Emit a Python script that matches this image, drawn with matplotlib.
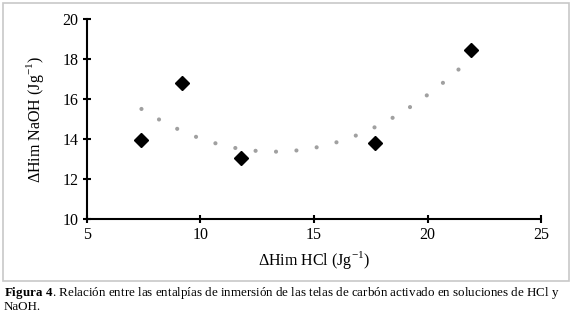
import matplotlib
matplotlib.use("Agg")
import matplotlib.pyplot as plt
import numpy as np
from matplotlib.patches import Rectangle

# data
him_hcl = [7.4, 9.2, 11.8, 17.7, 21.9]
him_naoh = [13.95, 16.8, 13.05, 13.8, 18.45]

xticks = [5, 10, 15, 20, 25]
yticks = [10, 12, 14, 16, 18, 20]

plt.rcParams['font.family'] = ['Liberation Serif', 'DejaVu Serif']
plt.rcParams['mathtext.fontset'] = 'custom'
plt.rcParams['mathtext.rm'] = 'Liberation Serif'
plt.rcParams['mathtext.bf'] = 'Liberation Serif:bold'

fig = plt.figure(figsize=(5.72, 3.13), dpi=100)
ax = fig.add_axes([0.152, 0.300, 0.794, 0.639])

# polynomial (order 2) trendline like the spreadsheet one
coef = np.polyfit(him_hcl, him_naoh, 2)
xs = np.linspace(min(him_hcl), max(him_hcl), 200)
ax.plot(xs, np.polyval(coef, xs), color='#a0a0a0', lw=3.0,
        ls=(0, (0.01, 4.9)), dash_capstyle='round', zorder=2)

ax.plot(him_hcl, him_naoh, 'D', color='black', markersize=7, zorder=3)

ax.set_xlim(5, 25)
ax.set_ylim(10, 20)
ax.set_xticks(xticks)
ax.set_yticks(yticks)
ax.spines['top'].set_visible(False)
ax.spines['right'].set_visible(False)
for s in ['left', 'bottom']:
    ax.spines[s].set_linewidth(1.5)
ax.tick_params(direction='inout', length=6, width=1.5, labelsize=11.5, pad=3)

ax.set_xlabel(r'ΔHim HCl (Jg$^{\mathregular{-1}}$)', fontsize=11.5, labelpad=4)
ax.set_ylabel(r'ΔHim NaOH (Jg$^{\mathregular{-1}}$)', fontsize=11.5, labelpad=12)

# thin grey frame around the chart
fig.patches.append(Rectangle((3 / 572, 1 - 281 / 313), 566 / 572, 278 / 313,
                             transform=fig.transFigure, fill=False,
                             edgecolor='#c8c8c8', lw=1.2))

fig.text(4 / 572, 1 - 293 / 313,
         r'$\mathbf{Figura\ 4}$. Relación entre las entalpías de inmersión de las telas de carbón activado en soluciones de HCl y',
         fontsize=9.4, va='center', ha='left')
fig.text(4 / 572, 1 - 307 / 313, 'NaOH.', fontsize=9.4, va='center', ha='left')

fig.savefig('out.png', dpi=100)
